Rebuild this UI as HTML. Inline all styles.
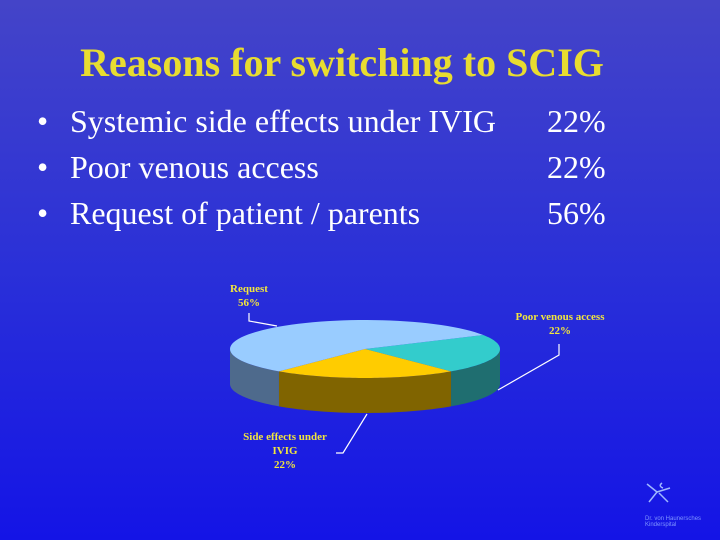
<!DOCTYPE html>
<html><head><meta charset="utf-8"><style>
html,body{margin:0;padding:0}
body{width:720px;height:540px;overflow:hidden;background:linear-gradient(180deg,#4444c8 0%,#2a30d8 50%,#1414e6 100%);font-family:"Liberation Serif",serif;position:relative}
.t{position:absolute;white-space:nowrap;line-height:1}
</style></head><body>
<div class="t" style="left:0;width:684px;text-align:center;top:43px;font-size:40px;font-weight:bold;color:#e8dc30">Reasons for switching to SCIG</div>
<div>
<div class="t" style="left:37px;top:105px;font-size:32px;color:#fff">•</div>
<div class="t" style="left:37px;top:151px;font-size:32px;color:#fff">•</div>
<div class="t" style="left:37px;top:197px;font-size:32px;color:#fff">•</div>
<div class="t" style="left:70px;top:105px;font-size:32px;color:#fff">Systemic side effects under IVIG</div>
<div class="t" style="left:70px;top:151px;font-size:32px;color:#fff">Poor venous access</div>
<div class="t" style="left:70px;top:197px;font-size:32px;color:#fff">Request of patient / parents</div>
<div class="t" style="left:547px;top:105px;font-size:32px;color:#fff">22%</div>
<div class="t" style="left:547px;top:151px;font-size:32px;color:#fff">22%</div>
<div class="t" style="left:547px;top:197px;font-size:32px;color:#fff">56%</div>
</div>
<svg id="pie" width="720" height="540" style="position:absolute;left:0;top:0" font-family="Liberation Serif, serif" font-weight="bold" font-size="11" fill="#f2e63c"></svg>
<div style="position:absolute;left:644px;top:480px;width:40px;height:30px">
<svg width="40" height="30"><g stroke="#9fb8ff" stroke-width="1.5" fill="none"><path d="M3 4 L13 12 L26 8"/><path d="M18 3 Q14 6 19 8"/><path d="M13 12 L5 22"/><path d="M15 13 L24 22"/></g></svg></div>
<div class="t" style="left:645px;top:516px;font-size:6px;color:#7f95ff;font-family:'Liberation Sans',sans-serif;line-height:6px">Dr. von Haunersches<br>Kinderspital</div>
<script>
const labels=["Poor venous access","Side effects under IVIG","Request"];
const values=[22,22,56];
const topColors=["#33cccc","#ffcc00","#99ccff"];
const sideColors=["#1f6e70","#806400","#4e6a8c"];
const cx=365,cy=349,rx=135,ry=29,depth=35;
const svg=document.getElementById('pie');
const NS="http://www.w3.org/2000/svg";
const total=values.reduce((a,b)=>a+b,0);
let start=90-values[1]/total*180-values[0]/total*360;
const pt=(a,dy)=>[cx+rx*Math.cos(a*Math.PI/180),cy+ry*Math.sin(a*Math.PI/180)+(dy||0)];
const slices=[];
values.forEach((v,i)=>{const s=start,e=start+v/total*360;slices.push([s,e]);start=e;});
slices.forEach(([s,e],i)=>{
  for(let k=-1;k<=1;k++){
    const a0=Math.max(s,k*360),a1=Math.min(e,k*360+180);
    if(a1<=a0)continue;
    let d="";const n=40;
    for(let j=0;j<=n;j++){const p=pt(a0+(a1-a0)*j/n);d+=(j?"L":"M")+p[0]+" "+p[1];}
    for(let j=n;j>=0;j--){const p=pt(a0+(a1-a0)*j/n,depth);d+="L"+p[0]+" "+p[1];}
    const el=document.createElementNS(NS,'path');
    el.setAttribute('d',d+"Z");el.setAttribute('fill',sideColors[i]);
    
    
    svg.appendChild(el);
  }
});
slices.forEach(([s,e],i)=>{
  let d="M"+cx+" "+cy;const n=60;
  for(let j=0;j<=n;j++){const p=pt(s+(e-s)*j/n);d+="L"+p[0]+" "+p[1];}
  const el=document.createElementNS(NS,'path');
  el.setAttribute('d',d+"Z");el.setAttribute('fill',topColors[i]);
  
  
  svg.appendChild(el);
});
function line(pts,name){const el=document.createElementNS(NS,'polyline');
  el.setAttribute('points',pts);el.setAttribute('stroke','#fff');el.setAttribute('fill','none');el.setAttribute('stroke-width','1.2');
  
  
  svg.appendChild(el);}
line("249,313 249,321 277,326","leader-request");
line("559,344 559,355 498,390","leader-venous");
line("367,414 343,453 336,453","leader-side-effects");
function txt(x,y,s,name){const el=document.createElementNS(NS,'text');
  el.setAttribute('x',x);el.setAttribute('y',y);el.setAttribute('text-anchor','middle');el.textContent=s;
  
  
  svg.appendChild(el);}
txt(249,292,"Request","label-request");
txt(249,306,values[2]+"%","label-request-pct");
txt(560,320,labels[0],"label-venous");
txt(560,334,values[0]+"%","label-venous-pct");
txt(285,440,"Side effects under","label-side-effects");
txt(285,454,"IVIG","label-side-effects-2");
txt(285,468,values[1]+"%","label-side-effects-pct");
</script>
</body></html>
